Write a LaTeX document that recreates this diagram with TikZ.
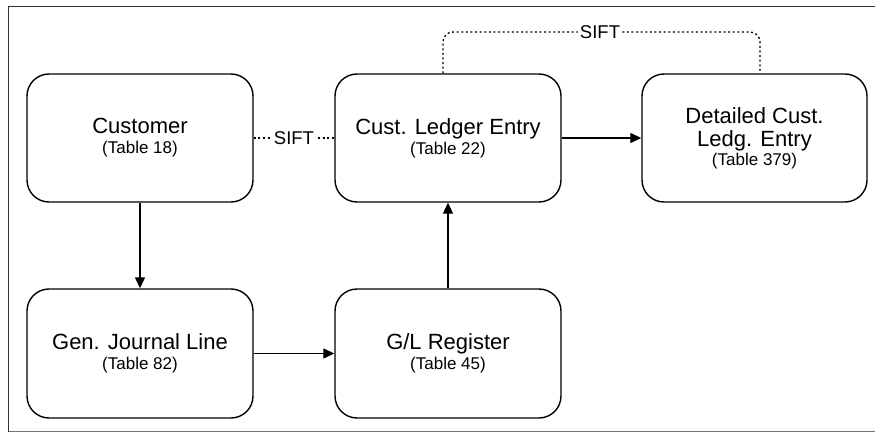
\documentclass[tikz,border=0pt]{standalone}
\usepackage{fontspec}
\setmainfont{Liberation Sans}
\usetikzlibrary{arrows.meta}
\newcommand{\tsub}{\fontsize{17}{20}\selectfont}
\begin{document}
\begin{tikzpicture}[x=1pt,y=-1pt,
  entity/.style={draw=black, line width=1.4pt, rounded corners=22pt,
    minimum width=226pt, minimum height=128pt, align=center,
    font=\fontsize{22}{23}\selectfont, inner sep=0pt},
  flow/.style={line width=1.3pt, -{Triangle[length=11pt,width=10pt]}},
  sift/.style={line width=1.3pt, dash pattern=on 2pt off 2.6pt},
  siftlabel/.style={fill=white, inner sep=1.5pt, font=\fontsize{18.5}{20}\selectfont}]
\useasboundingbox (0,0) rectangle (875,433);
% frame
\draw[line width=1.4pt, color=black!80] (875,6.5) -- (8.5,6.5) -- (8.5,431.5);
\draw[line width=1.4pt, color=black!55] (8.5,431.5) -- (875,431.5);
% tables
\node[entity] (cust) at (140,138) {Customer\\[-3pt]{\tsub (Table 18)}};
\node[entity] (cle) at (448,138) {Cust. Ledger Entry\\[-3pt]{\tsub (Table 22)}};
\node[entity, minimum width=225pt] (dcle) at (754.5,138) {Detailed Cust.\\Ledg. Entry\\[-4pt]{\tsub (Table 379)}};
\node[entity, minimum height=129pt] (gjl) at (140,353.5) {Gen. Journal Line\\[-3pt]{\tsub (Table 82)}};
\node[entity, minimum height=129pt] (glr) at (448,353.5) {G/L Register\\[-3pt]{\tsub (Table 45)}};
% flows
\draw[flow] (cust) -- (gjl);
\draw[flow] (gjl) -- (glr);
\draw[flow] (glr) -- (cle);
\draw[flow] (cle) -- (dcle);
% SIFT links
\draw[sift] (cust.east) -- node[siftlabel] (s1) {SIFT} (cle.west);
\coordinate (stop) at (600,32);
\draw[sift, rounded corners=10pt] ([xshift=-5pt]cle.north) |- (stop) -| ([xshift=5.5pt]dcle.north);
\node[siftlabel] (s2) at (stop) {SIFT};
\end{tikzpicture}
\end{document}
